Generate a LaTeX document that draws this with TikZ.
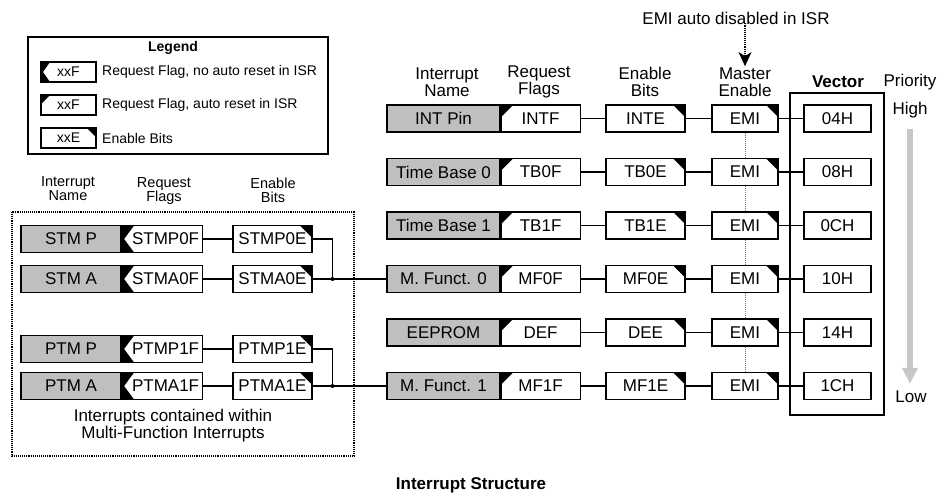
\documentclass[tikz,border=0pt]{standalone}
\usepackage{fontspec}
\setmainfont{Liberation Sans}
\usetikzlibrary{positioning,arrows.meta}
\definecolor{nameblock}{gray}{0.75}
\definecolor{prioblock}{gray}{0.78}
\definecolor{emidots}{gray}{0.45}
\newcommand{\boxfont}{\fontsize{17}{18}\selectfont}
\newcommand{\headfont}{\fontsize{17}{17.5}\selectfont}
\newcommand{\smallhead}{\fontsize{14.5}{14}\selectfont}
\newcommand{\legfont}{\fontsize{14}{16}\selectfont}

\tikzset{
  regbox/.style={draw, fill=white, line width=1.1pt, inner sep=0pt, minimum height=27pt, font=\boxfont},
  namebox/.style={regbox, fill=nameblock, minimum width=#1},
  flagauto/.style={regbox, minimum width=#1, path picture={
      \fill[black] (path picture bounding box.north west) -- ++(\cnr,0pt) -- ++(-\cnr,-\cnr) -- cycle;}},
  flagkeep/.style={regbox, minimum width=#1, path picture={
      \fill[black] (path picture bounding box.north west) -- ++(\cnr,0pt)
        -- ([xshift=2pt]path picture bounding box.west)
        -- ([xshift=\cnr]path picture bounding box.south west)
        -- (path picture bounding box.south west) -- cycle;}},
  enbox/.style={regbox, minimum width=#1, path picture={
      \fill[black] (path picture bounding box.north east) -- ++(-\cnr,0pt) -- ++(\cnr,-\cnr) -- cycle;}},
  padleft/.style={execute at begin node={\hspace*{7pt}}},
  wire/.style={line width=1.1pt},
  head/.style={align=center, font=\headfont, inner sep=1pt},
  shead/.style={align=center, font=\smallhead, inner sep=1pt}
}

\begin{document}
\begin{tikzpicture}[x=1pt,y=-1pt]
  \useasboundingbox (0,0) rectangle (942,496);
  \def\cnr{12pt}

  % legend
  \draw[line width=1.1pt] (28,37) rectangle (328,154);
  \node[font=\bfseries\legfont] (legtitle) at (173,48) {Legend};
  \begin{scope}
    \def\cnr{9pt}
    \node[flagkeep=55pt, minimum height=20pt, font=\legfont] (lkeep) at (68.5,72) {xxF};
    \node[flagauto=55pt, minimum height=20pt, font=\legfont] (lauto) at (68.5,105) {xxF};
    \node[enbox=55pt, minimum height=20pt, font=\legfont] (len) at (68.5,138) {xxE};
  \end{scope}
  \node[anchor=west, font=\legfont, inner sep=0pt] (lkeeptxt) at (102,72) {Request Flag, no auto reset in ISR};
  \node[anchor=west, font=\legfont, inner sep=0pt] (lautotxt) at (102,105) {Request Flag, auto reset in ISR};
  \node[anchor=west, font=\legfont, inner sep=0pt] (lentxt) at (102,138) {Enable Bits};

  % headers
  \node[head] (hdname) at (447,82) {Interrupt\\Name};
  \node[head] (hdflag) at (539,82) {Request\\Flags};
  \node[head] (hden) at (645,82) {Enable\\Bits};
  \node[head] (hdme) at (745,82) {Master\\Enable};
  \node[head, font=\bfseries\headfont] (hdvec) at (838,82) {Vector};
  \node[head] (prio) at (910,82) {Priority};
  \node[head] (prhigh) at (910,110) {High};
  \node[head] (prlow) at (911,397) {Low};
  \node[head] (emnote) at (736,18) {EMI auto disabled in ISR};
  \draw[densely dotted, line width=1.1pt, -{Stealth[length=14pt,width=13pt,inset=4pt]}]
    (emnote.south -| hdme.north) -- (hdme.north);
  \draw[prioblock, line width=6pt, -{Triangle[length=16pt,width=15pt]}, shorten <=10pt, shorten >=6pt]
    (prhigh.south) -- (prhigh.south |- prlow.north);

  \draw[line width=1.1pt] (790,93) rectangle (884,415);

  \foreach \i/\nm/\fl/\en/\vc in {1/INT Pin/INTF/INTE/04H, 2/Time Base 0/TB0F/TB0E/08H,
      3/Time Base 1/TB1F/TB1E/0CH, 4/M. Funct. 0/MF0F/MF0E/10H,
      5/EEPROM/DEF/DEE/14H, 6/M. Funct. 1/MF1F/MF1E/1CH}{
    \pgfmathsetmacro\yy{65+53.5*\i}
    \node[namebox=113pt] (nm\i) at (443.5,\yy) {\nm};
    \node[flagauto=79pt, right=0pt of nm\i] (fl\i) {\fl};
    \node[enbox=79pt] (en\i) at (645.5,\yy) {\en};
    \node[enbox=66pt] (emi\i) at (745,\yy) {EMI};
    \node[regbox, minimum width=67pt] (vec\i) at (837.5,\yy) {\vc};
    \draw[wire] (fl\i) -- (en\i);
    \draw[wire] (en\i) -- (emi\i);
    \draw[wire] (emi\i) -- (vec\i);
  }
  \foreach \i [evaluate=\i as \j using int(\i+1)] in {1,...,5}
    \draw[emidots, densely dotted, line width=1pt] (emi\i.south) -- (emi\j.north);

  % multi-function group
  \draw[line width=1.1pt, densely dotted] (12,212) rectangle (354,456);
  \node[shead] (shname) at (68,189) {Interrupt\\Name};
  \node[shead] (shflag) at (164,191) {Request\\Flags};
  \node[shead] (shen) at (273,190) {Enable\\Bits};
  \foreach \i/\nm/\fl/\en/\yy in {1/STM P/STMP0F/STMP0E/239, 2/STM A/STMA0F/STMA0E/279,
      3/PTM P/PTMP1F/PTMP1E/349, 4/PTM A/PTMA1F/PTMA1E/386}{
    \node[namebox=100pt] (snm\i) at (71,\yy) {\nm};
    \node[flagkeep=80pt, padleft, right=0pt of snm\i] (sfl\i) {\fl};
    \node[enbox=79pt] (sen\i) at (272.5,\yy) {\en};
    \draw[wire] (sfl\i) -- (sen\i);
  }
  \coordinate (jnA) at ([xshift=20pt]sen2.east);
  \coordinate (jnB) at ([xshift=20pt]sen4.east);
  \draw[wire] (sen1.east) -| (jnA);
  \draw[wire] (sen2.east) -- (nm4.west);
  \draw[wire] (sen3.east) -| (jnB);
  \draw[wire] (sen4.east) -- (nm6.west);
  \fill (jnA) circle (2pt);
  \fill (jnB) circle (2pt);
  \node[align=center, font=\fontsize{17}{17}\selectfont] (mfnote) at (173,426) {Interrupts contained within\\Multi-Function Interrupts};

  \node[font=\bfseries\headfont] (title) at (471,485) {Interrupt Structure};
\end{tikzpicture}
\end{document}
